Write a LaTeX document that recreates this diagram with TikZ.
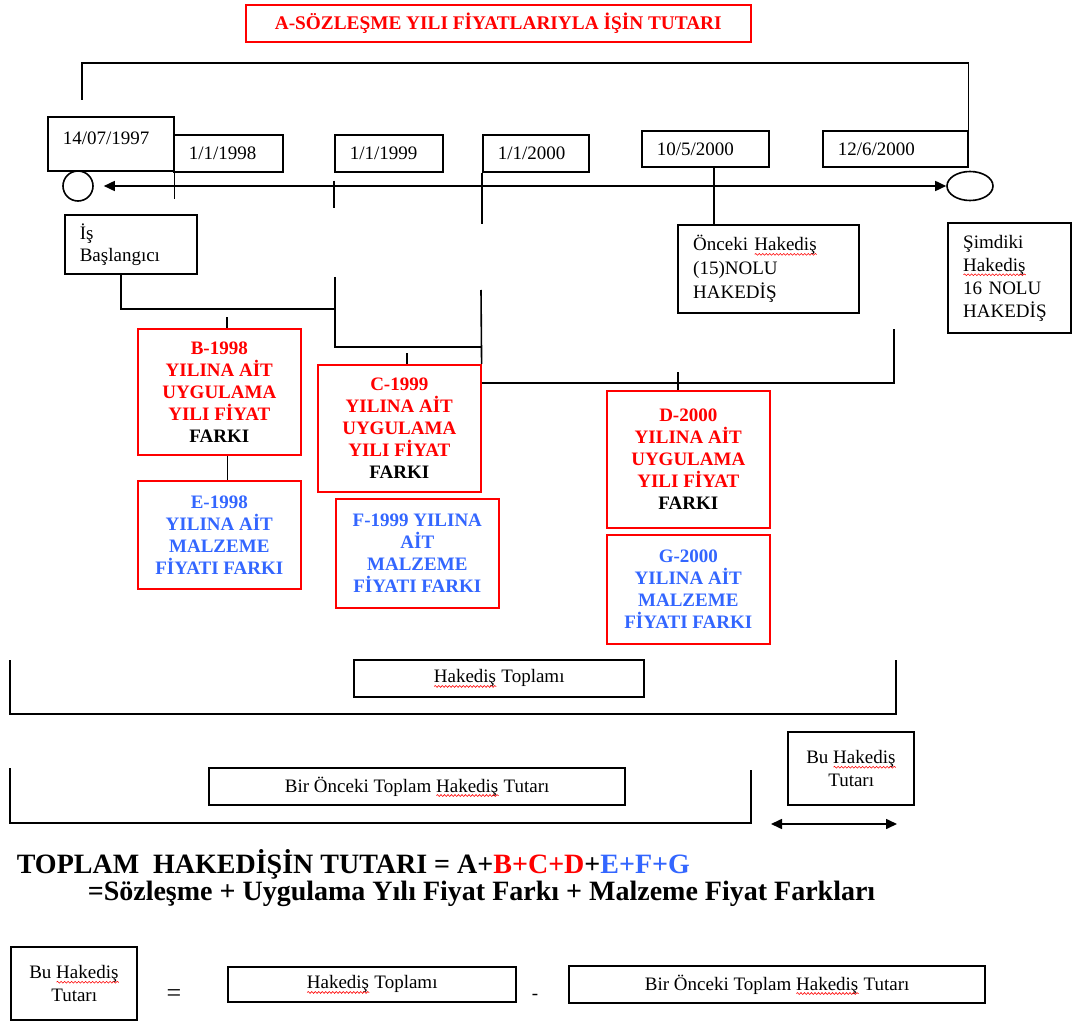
\documentclass[tikz,border=0pt]{standalone}
\usepackage{fontspec}
\setmainfont{Liberation Serif}
\usetikzlibrary{arrows.meta, calc, shapes.geometric, decorations.pathmorphing}

\definecolor{boxred}{RGB}{255,0,0}
\definecolor{matblue}{RGB}{51,102,255}

% red wavy mark under a word
\newlength{\spellwd}
\newcommand{\spellmark}[1]{\settowidth{\spellwd}{#1}\mbox{\rlap{#1}%
  \tikz[baseline=0pt]\draw[red, line width=0.6pt, decorate,
    decoration={snake, amplitude=0.9pt, segment length=3.5pt}] (0pt,-3.5pt) -- (\spellwd,-3.5pt);}}

\begin{document}
\begin{tikzpicture}[x=1pt, y=-1pt, line width=1.6pt,
    every node/.style={font=\fontsize{19}{23}\selectfont, inner sep=0pt},
    datebox/.style={draw, anchor=north west, align=left, inner xsep=15pt},
    notebox/.style={draw, anchor=north west, align=left, inner xsep=15pt},
    farkbox/.style={draw=boxred, anchor=north west, align=center, minimum width=163pt,
        font=\bfseries\fontsize{19}{22}\selectfont},
    sumbox/.style={draw, anchor=north west, align=center},
    formula/.style={anchor=base west, font=\bfseries\fontsize{28}{32}\selectfont},
    twoway/.style={{Triangle[length=11pt, width=10pt]}-{Triangle[length=11pt, width=10pt]}}]
  \useasboundingbox (0,0) rectangle (1072,1024);

  % Title
  \node[draw=boxred, anchor=north west, minimum width=505pt, minimum height=37pt, text=boxred,
        font=\bfseries\fontsize{19.3}{22}\selectfont] (title) at (245,4)
        {A-SÖZLEŞME YILI FİYATLARIYLA İŞİN TUTARI};

  % Dates
  \node[datebox, text width=96pt, minimum height=54pt, text depth=12pt] (d97) at (47,116) {14/07/1997};
  \node[datebox, text width=79pt, minimum height=37pt] (d98) at (173,134) {1/1/1998};
  \node[datebox, text width=78pt, minimum height=37pt] (d99) at (334,134) {1/1/1999};
  \node[datebox, text width=76pt, minimum height=37pt] (d00) at (482,134) {1/1/2000};
  \node[datebox, text width=97pt, minimum height=36pt] (d0510) at (641,130) {10/5/2000};
  \node[datebox, text width=115pt, minimum height=36pt] (d1206) at (822,130) {12/6/2000};

  % Top bracket
  \coordinate (topl) at (82,100);
  \draw (topl) -- (82,63) -| (d1206.north east);

  % Time line
  \node[draw, circle, minimum size=30pt] (startc) at (78,186) {};
  \node[draw, ellipse, minimum width=46pt, minimum height=29pt] (endc) at (970,186) {};
  \draw[twoway] ([xshift=10pt]startc.east) -- (endc.west);
  \draw (d97.south east) -- ++(0,27);
  \draw ($(d99.south west)+(0,8)$) -- ++(0,27);
  \draw (d00.south west) -- ++(0,51);

  % Hakedis boxes
  \node[notebox, text width=102pt, minimum height=59pt, font=\fontsize{19}{22}\selectfont] (isbas) at (64,214)
        {İş\\Başlangıcı};
  \node[notebox, text width=151pt, minimum height=88pt, font=\fontsize{19}{24}\selectfont] (once) at (678,225)
        {Önceki \spellmark{Hakediş}\\(15)NOLU\\HAKEDİŞ};
  \node[notebox, text width=93pt, minimum height=110pt] (simdi) at (948,223)
        {Şimdiki\\\spellmark{Hakediş}\\16 NOLU\\HAKEDİŞ};
  \coordinate (k0510) at ($(d0510.south west)+(73,0)$);
  \draw (k0510) -- (k0510 |- once.north);

  % Price difference boxes
  \node[farkbox, text=boxred, minimum height=126pt] (B) at (137,328)
        {B-1998\\YILINA AİT\\UYGULAMA\\YILI FİYAT\\\textcolor{black}{FARKI}};
  \node[farkbox, text=matblue, minimum height=108pt] (E) at (137,480)
        {E-1998\\YILINA AİT\\MALZEME\\FİYATI FARKI};
  \node[farkbox, text=boxred, minimum height=127pt] (C) at (317,364)
        {C-1999\\YILINA AİT\\UYGULAMA\\YILI FİYAT\\\textcolor{black}{FARKI}};
  \node[farkbox, text=matblue, minimum height=109pt] (F) at (335,498)
        {F-1999 YILINA\\AİT\\MALZEME\\FİYATI FARKI};
  \node[farkbox, text=boxred, minimum height=137pt] (D) at (606,390)
        {D-2000\\YILINA AİT\\UYGULAMA\\YILI FİYAT\\\textcolor{black}{FARKI}};
  \node[farkbox, text=matblue, minimum height=109pt] (G) at (606,534)
        {G-2000\\YILINA AİT\\MALZEME\\FİYATI FARKI};

  % Links between years
  \coordinate (v99) at (335,277);
  \coordinate (v00) at (481,290);
  \coordinate (vd) at (894,329);
  \draw ([xshift=-10pt]isbas.south) |- (v99 |- 0,309);
  \draw (v99) |- (v00 |- 0,347);
  \draw (v00) -- (C.north east);
  \draw ($(C.north east)+(0,19)$) -| (vd);
  \draw ($(B.north west)+(90,0)$) -- ++(0,-11);
  \draw ($(C.north west)+(90,0)$) -- ++(0,-11);
  \draw ($(D.north west)+(72,0)$) -- ++(0,-18);
  \draw ([xshift=8pt]B.south) -- ([xshift=8pt]E.north);

  % Totals
  \coordinate (ht1) at (10,660);
  \coordinate (ht2) at (896,660);
  \draw (ht1) -- (10,714) -- (896,714) -- (ht2);
  \node[sumbox, minimum width=290pt, minimum height=37pt] (htop) at (354,660) {\spellmark{Hakediş} Toplamı};
  \coordinate (bo1) at (10,768);
  \coordinate (bo2) at (751,770);
  \draw (bo1) -- (10,823) -- (751,823) -- (bo2);
  \node[sumbox, minimum width=416pt, minimum height=37pt] (bonce) at (209,768)
        {Bir Önceki Toplam \spellmark{Hakediş} Tutarı};
  \node[sumbox, minimum width=126pt, minimum height=73pt] (bu) at (788,732)
        {Bu \spellmark{Hakediş}\\Tutarı};
  \coordinate (a1) at (771,824);
  \coordinate (a2) at (897,824);
  \draw[twoway] (a1) -- (a2);

  % Formula
  \node[formula] (f1) at (16,873)
        {TOPLAM\ \ HAKEDİŞİN TUTARI = A+\textcolor{boxred}{B+C+D}+\textcolor{matblue}{E+F+G}};
  \node[formula] (f2) at (87,900)
        {=Sözleşme + Uygulama Yılı Fiyat Farkı + Malzeme Fiyat Farkları};

  % Bottom equation
  \node[sumbox, minimum width=126pt, minimum height=73pt] (bu2) at (11,947)
        {Bu \spellmark{Hakediş}\\Tutarı};
  \node[font=\fontsize{26}{26}\selectfont] (eq) at (174,996) {=};
  \node[sumbox, minimum width=288pt, minimum height=35pt] (htop2) at (228,967) {\spellmark{Hakediş} Toplamı};
  \node (minus) at (535,997) {-};
  \node[sumbox, minimum width=416pt, minimum height=37pt] (bonce2) at (569,966)
        {Bir Önceki Toplam \spellmark{Hakediş} Tutarı};
\end{tikzpicture}
\end{document}
